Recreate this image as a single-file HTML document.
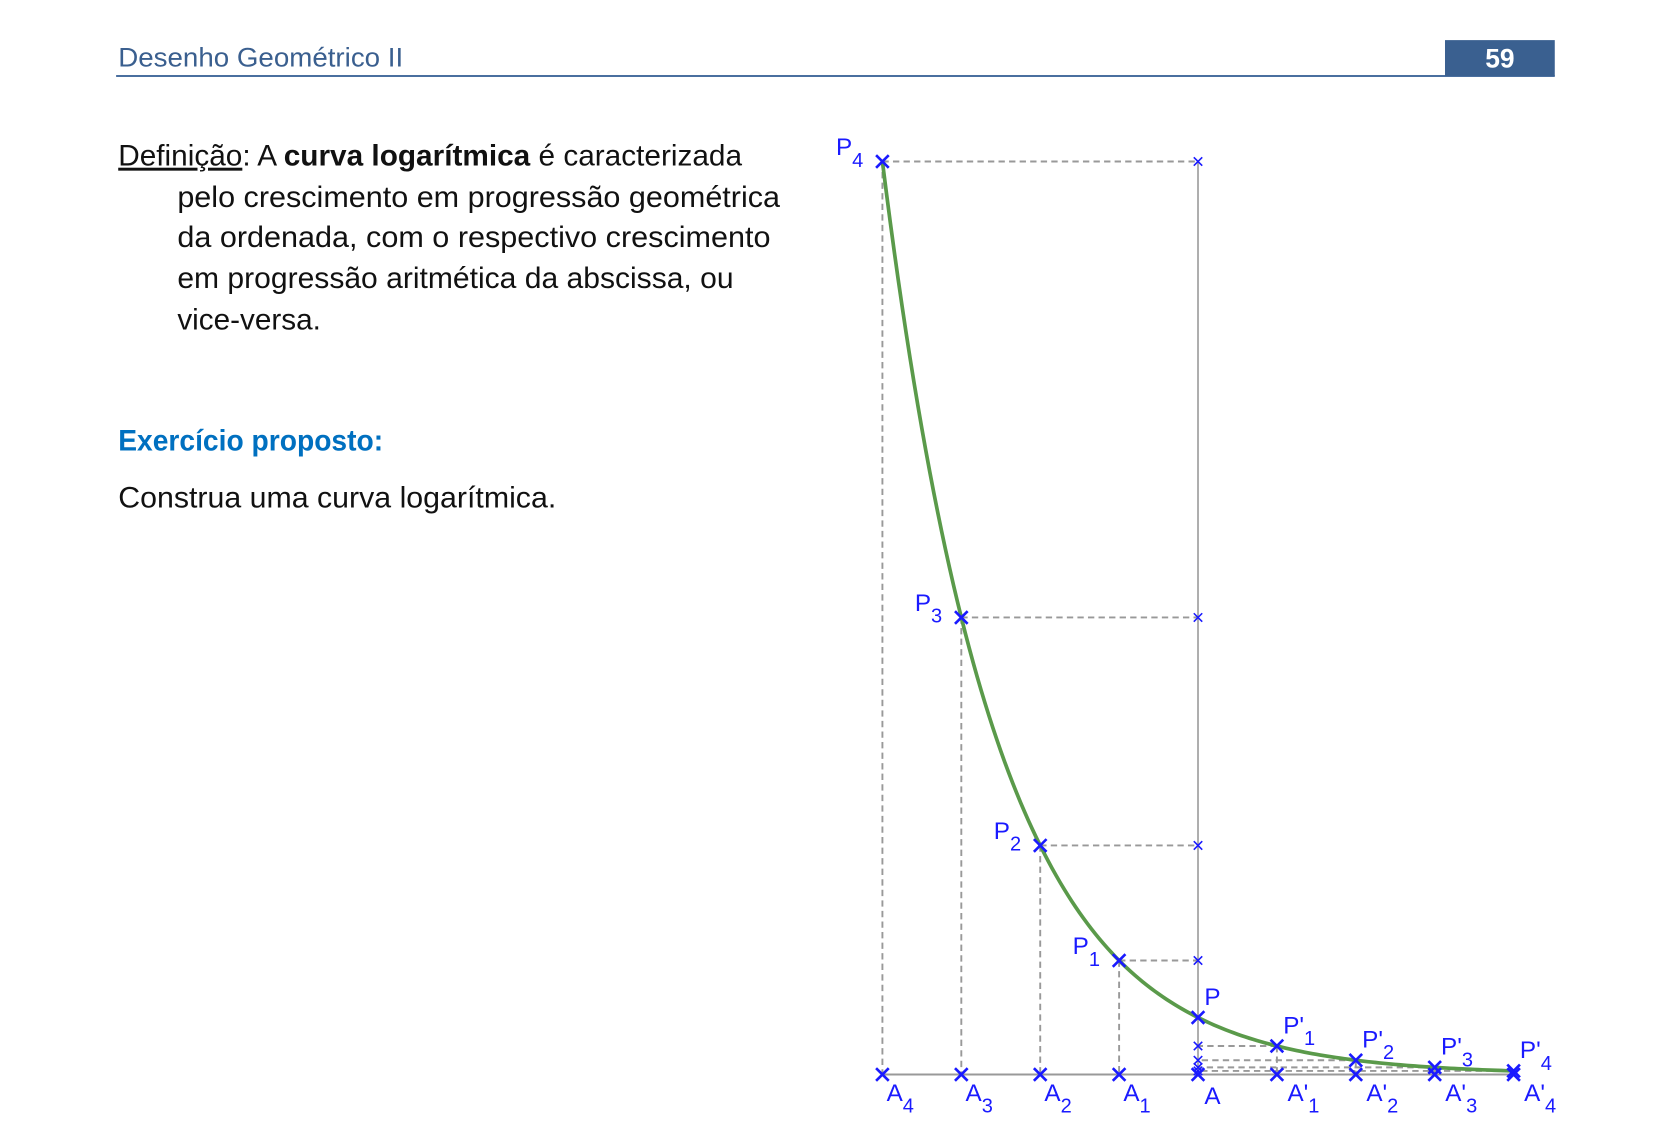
<!DOCTYPE html>
<html><head><meta charset="utf-8"><style>html,body{margin:0;padding:0;background:#fff}svg{display:block}</style></head>
<body>
<svg id="page" width="1654" height="1122" viewBox="0 0 1567 1063" xmlns="http://www.w3.org/2000/svg" font-family="'Liberation Sans', sans-serif">
<g>
<text x="112" y="63" font-size="25" fill="#3a5f8f" textLength="270" lengthAdjust="spacingAndGlyphs">Desenho Geométrico II</text>
<line x1="110" y1="72" x2="1473" y2="72" stroke="#4a6f9f" stroke-width="2"/>
<rect x="1369" y="38" width="104" height="34" fill="#3a6090"/>
<text x="1421" y="64" font-size="25" font-weight="bold" fill="#fff" text-anchor="middle">59</text>
</g>
<g font-size="28" fill="#111">
<text x="112" y="157" textLength="591" lengthAdjust="spacingAndGlyphs"><tspan text-decoration="underline">Definição</tspan>: A <tspan font-weight="bold">curva logarítmica</tspan> é caracterizada</text>
<text x="168" y="196" textLength="571" lengthAdjust="spacingAndGlyphs">pelo crescimento em progressão geométrica</text>
<text x="168" y="234" textLength="562" lengthAdjust="spacingAndGlyphs">da ordenada, com o respectivo crescimento</text>
<text x="168" y="273" textLength="527" lengthAdjust="spacingAndGlyphs">em progressão aritmética da abscissa, ou</text>
<text x="168" y="312" textLength="136" lengthAdjust="spacingAndGlyphs">vice-versa.</text>
<text x="112" y="427" font-weight="bold" fill="#0070c0" textLength="251" lengthAdjust="spacingAndGlyphs">Exercício proposto:</text>
<text x="112" y="481" textLength="415" lengthAdjust="spacingAndGlyphs">Construa uma curva logarítmica.</text>
</g>
<g id="chart"></g>
</svg>
<script>
const labels = ["P4","P3","P2","P1","P","P'1","P'2","P'3","P'4"];
const axisLabels = ["A4","A3","A2","A1","A","A'1","A'2","A'3","A'4"];
const xSteps = [-4,-3,-2,-1,0,1,2,3,4];
const yValues = [865,433,217,108,54,27,13.5,6.75,3.4];

const NS="http://www.w3.org/2000/svg";
const g=document.getElementById('chart');
const X0=1135, STEP=74.75, Y0=1018;
const sx=s=>X0+s*STEP, sy=v=>Y0-v;
function mk(tag,attrs,parent){const e=document.createElementNS(NS,tag);for(const k in attrs)e.setAttribute(k,attrs[k]);(parent||g).appendChild(e);return e;}
function cross(x,y,r,w,name){
  const c=mk('path',{d:`M${x-r},${y-r}L${x+r},${y+r}M${x-r},${y+r}L${x+r},${y-r}`,stroke:'#1a1aff','stroke-width':w,fill:'none'});
  
  
}
function lab(x,y,main,sub,name){
  const t=mk('text',{x:x,y:y,'font-size':23,fill:'#1a1aff'});
  
  
  t.textContent=main;
  if(sub){const s=mk('tspan',{dy:11,'font-size':19},t);s.textContent=sub;}
}
const ax=mk('line',{x1:sx(-4),y1:Y0,x2:sx(4),y2:Y0,stroke:'#999','stroke-width':2});


const vl=mk('line',{x1:X0,y1:sy(yValues[0]),x2:X0,y2:Y0,stroke:'#999','stroke-width':1.5});


xSteps.forEach((s,i)=>{
  const x=sx(s),y=sy(yValues[i]);
  if(s!==0){
    const h=mk('line',{x1:x,y1:y,x2:X0,y2:y,stroke:'#999','stroke-width':1.8,'stroke-dasharray':'6,4'});
    
    
    const v=mk('line',{x1:x,y1:y,x2:x,y2:Y0,stroke:'#999','stroke-width':1.8,'stroke-dasharray':'6,4'});
    
    
    cross(X0,y,4,1.5,'ordinate-mark');
  }
});
let d='';
for(let i=0;i<xSteps.length-1;i++){
  const a=Math.log(yValues[i]), b=Math.log(yValues[i+1]);
  for(let k=0;k<=20;k++){
    const t=k/20;
    const s=xSteps[i]+(xSteps[i+1]-xSteps[i])*t;
    const v=Math.exp(a+(b-a)*t);
    d+=(d?'L':'M')+sx(s).toFixed(2)+','+sy(v).toFixed(2);
  }
}
const cv=mk('path',{d:d,stroke:'#5a9a4a','stroke-width':3.5,fill:'none'});


xSteps.forEach((s,i)=>{
  const x=sx(s),y=sy(yValues[i]);
  cross(x,Y0,6,2.5,'axis-point');
  cross(x,y,6,2.5,'curve-point');
  const L=labels[i], A=axisLabels[i];
  if(s<0) lab(x-44,y-6,L[0],L.slice(1),'point-label');
  else if(s===0) lab(x+6,y-12,'P','','point-label');
  else lab(x+6,y-12,L.slice(0,2),L.slice(2),'point-label');
  if(s<0) lab(x+4,Y0+25,'A',A.slice(1),'axis-label');
  else if(s===0) lab(x+6,Y0+28,'A','','axis-label');
  else lab(x+10,Y0+25,"A'",A.slice(2),'axis-label');
});
</script>
</body></html>
